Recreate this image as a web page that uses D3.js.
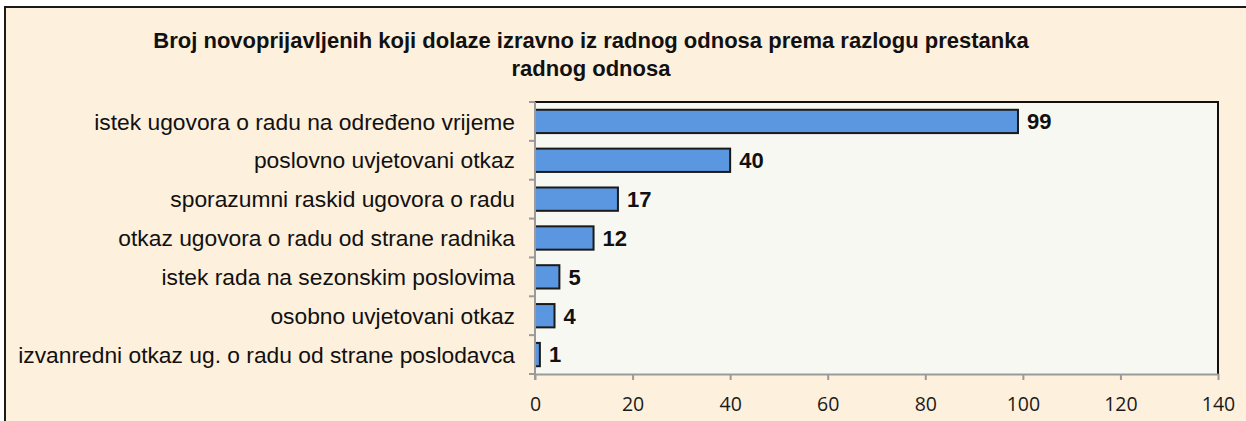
<!DOCTYPE html>
<html lang="hr">
<head>
<meta charset="UTF-8">
<title>Razlog prestanka radnog odnosa</title>
<style>
    body { margin: 0; background: #ffffff; }
    svg { display: block; }
</style>
</head>
<body>
<svg id="chart"></svg>
<script src="https://cdnjs.cloudflare.com/ajax/libs/d3/7.9.0/d3.min.js"></script>
<script>
// chart data
const titleLines = ["Broj novoprijavljenih koji dolaze izravno iz radnog odnosa prema razlogu prestanka", "radnog odnosa"];
const categories = [
    "istek ugovora o radu na određeno vrijeme",
    "poslovno uvjetovani otkaz",
    "sporazumni raskid ugovora o radu",
    "otkaz ugovora o radu od strane radnika",
    "istek rada na sezonskim poslovima",
    "osobno uvjetovani otkaz",
    "izvanredni otkaz ug. o radu od strane poslodavca"
];
const values = [99, 40, 17, 12, 5, 4, 1];
const xTicks = [0, 20, 40, 60, 80, 100, 120, 140];

const W = 1246, H = 421;
const plot = { left: 535, right: 1218, top: 102, bottom: 374 };

const svg = d3.select("#chart").attr("width", W).attr("height", H);

// outer chart frame
svg.append("rect")
    .attr("x", 5).attr("y", 7)
    .attr("width", W + 10).attr("height", H + 10)
    .attr("fill", "#fdf0dd")
    .attr("stroke", "#1a1a1a")
    .attr("stroke-width", 2);

// title
const title = svg.append("text")
    .attr("text-anchor", "middle")
    .attr("font-family", "Liberation Sans, Arial, sans-serif")
    .attr("font-weight", "bold")
    .attr("font-size", 22)
    .attr("fill", "#111");
titleLines.forEach((t, i) => {
    title.append("tspan").attr("x", 591).attr("y", 48 + i * 28).text(t);
});

const x = d3.scaleLinear().domain([0, 140]).range([plot.left, plot.right]);
const y = d3.scaleBand().domain(categories).range([plot.top, plot.bottom]).paddingInner(0.4).paddingOuter(0.2);

// plot area
svg.append("rect")
    .attr("x", plot.left).attr("y", plot.top)
    .attr("width", plot.right - plot.left).attr("height", plot.bottom - plot.top)
    .attr("fill", "#f8f8f2");

// top and right borders of plot area
svg.append("path")
    .attr("d", `M${plot.left},${plot.top}H${plot.right}V${plot.bottom}`)
    .attr("fill", "none")
    .attr("stroke", "#111")
    .attr("stroke-width", 2);

// bars
svg.selectAll(".bar")
    .data(values)
    .enter()
    .append("rect")
    .attr("class", "bar")
    .attr("x", x(0))
    .attr("y", (d, i) => y(categories[i]))
    .attr("width", d => x(d) - x(0))
    .attr("height", y.bandwidth())
    .attr("fill", "#5b97e0")
    .attr("stroke", "#1a1a1a")
    .attr("stroke-width", 2);

// value labels
svg.selectAll(".val")
    .data(values)
    .enter()
    .append("text")
    .attr("class", "val")
    .attr("x", d => x(d) + 9)
    .attr("y", (d, i) => y(categories[i]) + y.bandwidth() / 2)
    .attr("dy", "0.36em")
    .attr("font-family", "Liberation Sans, Arial, sans-serif")
    .attr("font-weight", "bold")
    .attr("font-size", 22)
    .attr("fill", "#111")
    .text(d => d);

// x axis
const xAxis = svg.append("g")
    .attr("transform", `translate(0,${plot.bottom})`)
    .call(d3.axisBottom(x).tickValues(xTicks).tickSize(6).tickSizeOuter(0));
xAxis.select(".domain").attr("stroke", "#9a9a9a").attr("stroke-width", 2);
xAxis.selectAll(".tick line").attr("stroke", "#9a9a9a").attr("stroke-width", 2);
xAxis.selectAll(".tick text")
    .attr("y", 23)
    .attr("font-family", "Open Sans, sans-serif")
    .attr("font-size", 19.5)
    .attr("fill", "#1a1a1a");

// y axis: ticks between categories
const yAxis = svg.append("g").attr("transform", `translate(${plot.left},0)`);
yAxis.append("line")
    .attr("y1", plot.top).attr("y2", plot.bottom + 6)
    .attr("stroke", "#9a9a9a").attr("stroke-width", 2);
const step = (plot.bottom - plot.top) / categories.length;
yAxis.selectAll(".ytick")
    .data(d3.range(categories.length + 1))
    .enter()
    .append("line")
    .attr("x1", -6).attr("x2", 0)
    .attr("y1", i => plot.top + i * step)
    .attr("y2", i => plot.top + i * step)
    .attr("stroke", "#9a9a9a").attr("stroke-width", 2);

svg.selectAll(".cat")
    .data(categories)
    .enter()
    .append("text")
    .attr("class", "cat")
    .attr("x", plot.left - 20)
    .attr("y", d => y(d) + y.bandwidth() / 2)
    .attr("dy", "0.36em")
    .attr("text-anchor", "end")
    .attr("font-family", "Liberation Sans, Arial, sans-serif")
    .attr("font-size", 22.8)
    .attr("fill", "#111")
    .text(d => d);
</script>
</body>
</html>
